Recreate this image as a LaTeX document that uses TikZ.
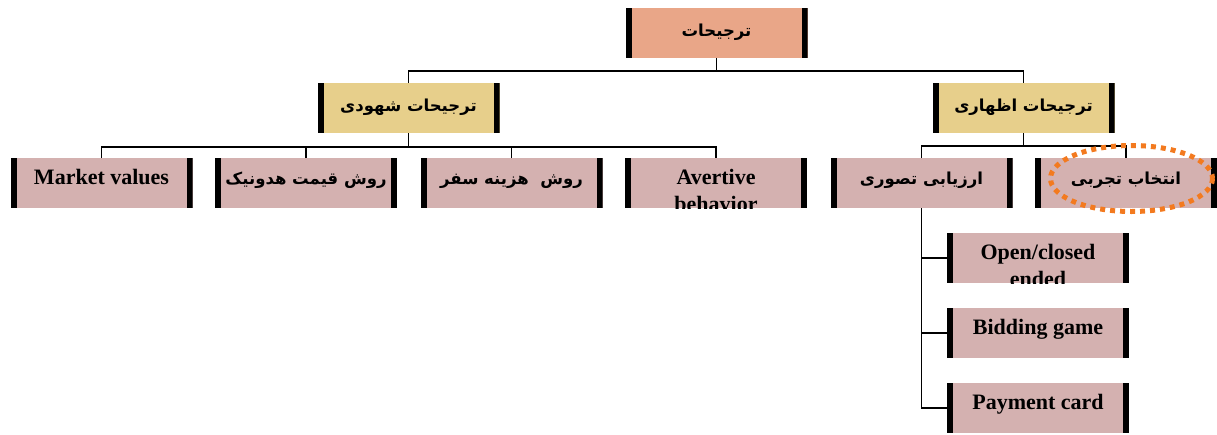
\documentclass[tikz,border=0pt]{standalone}
\usepackage{fontspec}
\setmainfont{Liberation Serif}
\newfontfamily\fa[Script=Arabic]{DejaVu Sans}
\TeXXeTstate=1
\definecolor{cTop}{HTML}{E9A688}
\definecolor{cMid}{HTML}{E7CF8B}
\definecolor{cLow}{HTML}{D4B1B0}
\definecolor{cOrange}{HTML}{F37A1F}
\tikzset{
  bx/.style={minimum width=182pt, minimum height=50pt, inner sep=0pt, outer sep=0pt,
    path picture={
      \fill[black] (path picture bounding box.south west) rectangle ([xshift=6pt]path picture bounding box.north west);
      \fill[black] ([xshift=-6pt]path picture bounding box.south east) rectangle (path picture bounding box.north east);}},
  lt/.style={font=\fontsize{22pt}{25pt}\selectfont\bfseries, inner sep=0pt, align=center, anchor=base},
  lt2/.style={font=\fontsize{22pt}{27pt}\selectfont\bfseries, inner sep=0pt, align=center, anchor=north},
  ft/.style={font=\fontsize{16.5pt}{20pt}\fa\bfseries, inner sep=0pt, anchor=base},
  conn/.style={line width=1.9pt},
  hl/.style={draw=cOrange, line width=5pt, dash pattern=on 5pt off 5pt}
}
\begin{document}
\begin{tikzpicture}[x=1pt,y=-1pt]
\useasboundingbox (0,0) rectangle (1217,434);
% boxes
\node[bx,fill=cTop] (top) at (716.5,33) {};
\node[bx,fill=cMid] (shah) at (408.5,108) {};
\node[bx,fill=cMid] (ezh) at (1023.5,108) {};
\node[bx,fill=cLow] (mv) at (101.5,183) {};
\node[bx,fill=cLow] (hed) at (306,183) {};
\node[bx,fill=cLow] (saf) at (511.5,183) {};
\node[bx,fill=cLow] (av) at (716,183) {};
\node[bx,fill=cLow] (tas) at (921.5,183) {};
\node[bx,fill=cLow] (taj) at (1126,183) {};
\node[bx,fill=cLow] (open) at (1038,258) {};
\node[bx,fill=cLow] (bid) at (1038,333) {};
\node[bx,fill=cLow] (pay) at (1038,408) {};
% texts
\node[ft] (top-t) at ([yshift=-28pt]top.north) {\beginR ترجیحات\endR};
\node[ft] (shah-t) at ([yshift=-28pt]shah.north) {\beginR ترجیحات شهودی\endR};
\node[ft] (ezh-t) at ([yshift=-28pt]ezh.north) {\beginR ترجیحات اظهاری\endR};
\node[lt] (mv-t) at ([yshift=-26pt]mv.north) {Market values};
\node[ft] (hed-t) at ([yshift=-26pt]hed.north) {\beginR روش قیمت هدونیک\endR};
\node[ft] (saf-t) at ([yshift=-26pt]saf.north) {\beginR روش\ \ هزینه سفر\endR};
\begin{scope}
\clip (av.south west) rectangle (av.north east);
\node[lt2] (av-t) at ([yshift=-11pt]av.north) {Avertive\\behavior};
\end{scope}
\node[ft] (tas-t) at ([yshift=-26pt]tas.north) {\beginR ارزیابی تصوری\endR};
\node[ft] (taj-t) at ([yshift=-26pt]taj.north) {\beginR انتخاب تجربی\endR};
\begin{scope}
\clip (open.south west) rectangle (open.north east);
\node[lt2] (open-t) at ([yshift=-11pt]open.north) {Open/closed\\ended};
\end{scope}
\node[lt] (bid-t) at ([yshift=-26pt]bid.north) {Bidding game};
\node[lt] (pay-t) at ([yshift=-26pt]pay.north) {Payment card};
% connectors
\path (top.south) ++(0,13) coordinate (b1);
\draw[conn] (top.south) -- (b1);
\draw[conn] (shah.north) |- (b1) -| (ezh.north);
\path (shah.south) ++(0,14) coordinate (b2);
\draw[conn] (shah.south) -- (b2);
\draw[conn] (mv.north) |- (b2) -| (av.north);
\draw[conn] (hed.north) -- (hed.north |- b2);
\draw[conn] (saf.north) -- (saf.north |- b2);
\path (ezh.south) ++(0,13) coordinate (b3);
\draw[conn] (ezh.south) -- (b3);
\draw[conn] (tas.north) |- (b3) -| (taj.north);
\draw[conn] (tas.south) |- (pay.west);
\draw[conn] (open.west) -- (open.west -| tas.south);
\draw[conn] (bid.west) -- (bid.west -| tas.south);
% highlight
\draw[hl] (1131.5,178.5) ellipse [x radius=81, y radius=33];
\end{tikzpicture}
\end{document}
